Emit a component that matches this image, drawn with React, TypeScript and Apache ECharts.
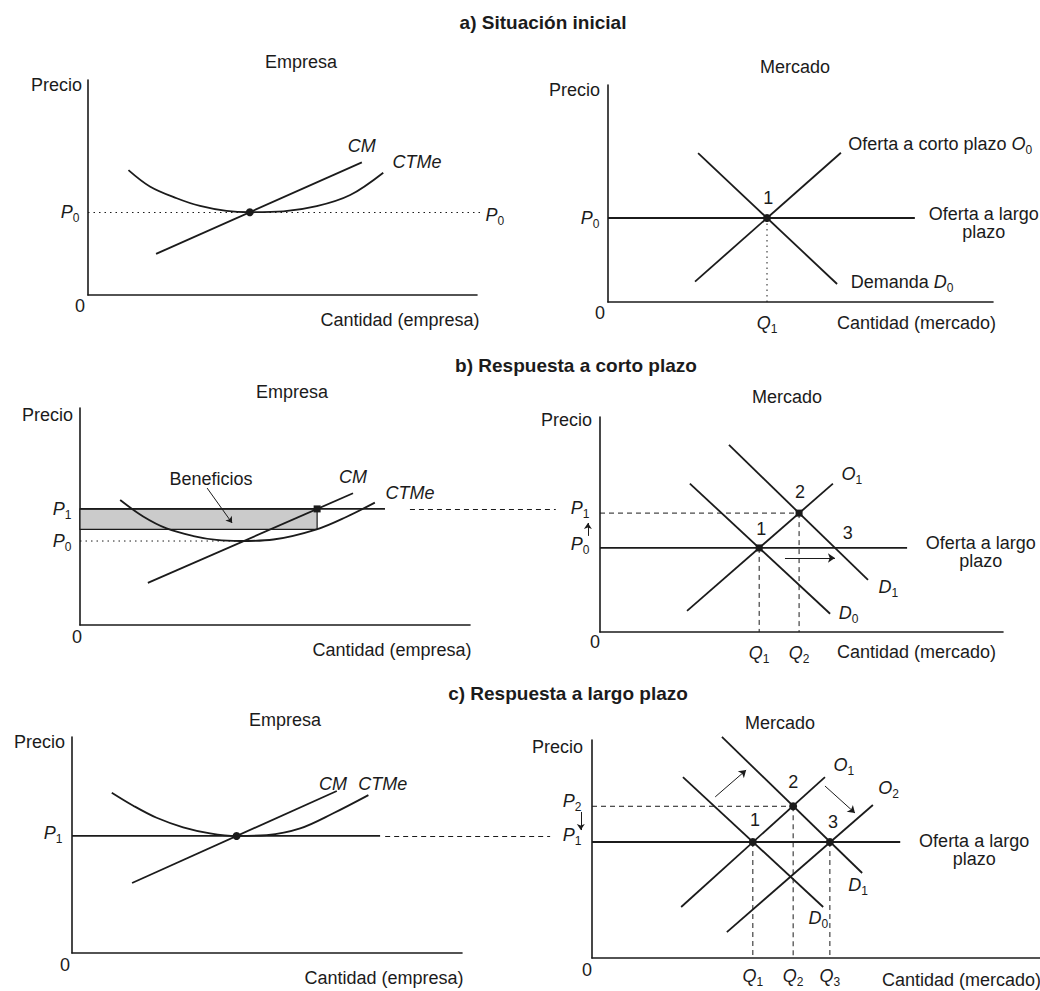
import React, { useEffect, useRef } from "react";
import * as echarts from "echarts";

const FONT = "'Liberation Sans', Arial, Helvetica, sans-serif";
const INK = "#1b1b1b";

// ---------------- a) Situación inicial ----------------
// Empresa (firm): quantity 0..100, price 0..100
const aEmpCTMe = [[10.4, 58.1], [15.9, 50.5], [22.8, 45], [28.8, 41.4], [35.6, 39.1], [41.6, 38.5], [50.2, 38.9], [58.8, 41.3], [67.4, 46.5], [75.9, 56.9]];
const aEmpCM = [[17.5, 19.1], [70.4, 61.7]];
const aEmpP0 = 38.5;
const aEmpQ = 41.6;
const aEmpP0End = 101;
// Mercado (market)
const aMktO0 = [[22.6, 9.4], [60.5, 68.8]];
const aMktD0 = [[23.4, 68.6], [59.5, 8.3]];
const aMktP0 = 38.7;
const aMktQ1 = 41.3;
const aMktLREnd = 79.7;

// ---------------- b) Respuesta a corto plazo ----------------
const bEmpCTMe = [[10.3, 57.6], [16.2, 50], [22.2, 44.5], [29.1, 41], [35, 39.2], [41, 38.7], [49.6, 39.4], [60.7, 44.1], [68.4, 49.9], [75.6, 56.4]];
const bEmpCM = [[17.4, 19.4], [70, 60.7]];
const bEmpP1 = 53.5;
const bEmpP0 = 38.7;
const bEmpQ = 60.8;
const bEmpACatQ = 44.1;
const bEmpP0End = 41;
const bEmpP1End = 78.2;
const bEmpDash = [84.6, 122];
const bMktO1 = [[21.6, 9.8], [57.8, 69]];
const bMktD0 = [[22.3, 69], [57.1, 8.5]];
const bMktD1 = [[32, 87], [66.5, 24.2]];
const bMktP1 = 55.3;
const bMktP0 = 39.1;
const bMktQ1 = 39.5;
const bMktQ2 = 49.4;
const bMktQ3 = 58.3;
const bMktLREnd = 76.2;

// ---------------- c) Respuesta a largo plazo ----------------
const cEmpCTMe = [[10.2, 74.2], [15.7, 68.2], [21.7, 62.6], [28.5, 58.2], [35.4, 55.4], [42.2, 54.2], [49.9, 54.6], [58.5, 57.7], [67, 64.7], [76, 73.1]];
const cEmpCM = [[15.4, 32.4], [67.9, 75]];
const cEmpP1 = 54.2;
const cEmpQ = 42.2;
const cEmpP1End = 79;
const cEmpDash = [80.3, 122.6];
const cMktO1 = [[19.9, 23.4], [52, 83]];
const cMktO2 = [[30.1, 11.9], [62.7, 70.2]];
const cMktD0 = [[20.3, 83], [51.6, 23.4]];
const cMktD1 = [[29, 101.4], [60.3, 39]];
const cMktP2 = 69.6;
const cMktP1 = 53.2;
const cMktQ1 = 35.9;
const cMktQ2 = 44.9;
const cMktQ3 = 53.1;
const cMktLREnd = 68.8;

// ---------------- layout ----------------
const GRIDS = [
  { left: 88, top: 80, width: 389, height: 215 },
  { left: 608, top: 85, width: 385, height: 217 },
  { left: 80, top: 408, width: 390, height: 217 },
  { left: 600, top: 417, width: 403, height: 215 },
  { left: 72, top: 737, width: 390, height: 216 },
  { left: 592, top: 740, width: 448, height: 218 },
];

const DOTTED = [1.5, 4];
const DASHED = [5, 4];

const rich = {
  n: { fontSize: 18, fontFamily: FONT, color: INK, lineHeight: 24 },
  v: { fontSize: 18, fontFamily: FONT, fontStyle: "italic", color: INK, lineHeight: 24 },
  s: { fontSize: 12, fontFamily: FONT, color: INK, lineHeight: 12, verticalAlign: "bottom" },
};

function buildOption() {
  const series: any[] = [];

  const line = (g: number, data: number[][], opt: any = {}) => {
    series.push({
      type: "line",
      xAxisIndex: g,
      yAxisIndex: g,
      data,
      symbol: "none",
      smooth: opt.smooth || false,
      clip: false,
      silent: true,
      lineStyle: { color: INK, width: opt.w ?? 1.8, type: opt.dash ?? "solid" },
      z: opt.z ?? 3,
      ...(opt.extra || {}),
    });
  };

  // free segment (not clipped by the grid), optional arrow head
  const seg = (g: number, a: number[], b: number[], opt: any = {}) => {
    series.push({
      type: "lines",
      coordinateSystem: "cartesian2d",
      xAxisIndex: g,
      yAxisIndex: g,
      clip: false,
      silent: true,
      symbol: opt.arrow ? ["none", "arrow"] : ["none", "none"],
      symbolSize: opt.size ?? 7,
      lineStyle: { color: INK, width: opt.w ?? 1, opacity: 1, type: opt.dash ?? "solid" },
      data: [{ coords: [a, b] }],
      z: opt.z ?? 5,
    });
  };

  const dot = (g: number, pt: number[], shape = "circle") => {
    series.push({
      type: "scatter",
      xAxisIndex: g,
      yAxisIndex: g,
      data: [pt],
      symbol: shape,
      symbolSize: shape === "rect" ? 7 : 8,
      clip: false,
      silent: true,
      itemStyle: { color: INK, opacity: 1 },
      z: 6,
    });
  };

  const labels = (g: number, items: any[]) => {
    series.push({
      type: "scatter",
      xAxisIndex: g,
      yAxisIndex: g,
      symbolSize: 1,
      clip: false,
      silent: true,
      itemStyle: { color: "rgba(0,0,0,0)", opacity: 1 },
      label: { show: true, rich, color: INK, fontFamily: FONT, fontSize: 18, lineHeight: 18, opacity: 1 },
      data: items.map((it) => {
        const lab: any = { formatter: it.t, position: it.p || "inside", distance: it.d ?? 0 };
        if (it.o) lab.offset = it.o;
        if (it.al) lab.align = it.al;
        return { value: [it.x, it.y], label: lab };
      }),
      z: 7,
    });
  };

  const P = (s: string) => `{v|P}{s|${s}}`;
  const Q = (s: string) => `{v|Q}{s|${s}}`;

  // ---- Panel 0: a) Empresa
  seg(0, [0, aEmpP0], [aEmpP0End, aEmpP0], { dash: DOTTED, z: 2 });
  line(0, aEmpCTMe, { smooth: 0.35 });
  line(0, aEmpCM);
  dot(0, [aEmpQ, aEmpP0]);
  labels(0, [
    { t: P("0"), x: 0, y: aEmpP0, p: "left", d: 8 },
    { t: P("0"), x: aEmpP0End, y: aEmpP0, p: "right", d: 4, o: [0, 3] },
    { t: "{v|CM}", x: 70.4, y: 69.3 },
    { t: "{v|CTMe}", x: 84.6, y: 61.9 },
  ]);

  // ---- Panel 1: a) Mercado
  line(1, [[0, aMktP0], [aMktLREnd, aMktP0]]);
  line(1, [[aMktQ1, aMktP0], [aMktQ1, 0]], { w: 1, dash: DOTTED, z: 2 });
  line(1, aMktO0);
  line(1, aMktD0);
  dot(1, [aMktQ1, aMktP0]);
  labels(1, [
    { t: P("0"), x: 0, y: aMktP0, p: "left", d: 8 },
    { t: Q("1"), x: aMktQ1, y: 0, p: "bottom", d: 8 },
    { t: "{n|1}", x: 41.6, y: 47.9 },
    { t: "{n|Oferta a corto plazo }{v|O}{s|0}", x: 62.3, y: 72.8, p: "right" },
    { t: "Oferta a largo\nplazo", x: 97.6, y: 36.6, al: "center" },
    { t: "{n|Demanda }{v|D}{s|0}", x: 62.9, y: 9.2, p: "right" },
  ]);

  // ---- Panel 2: b) Empresa
  line(2, [[0, bEmpP1], [bEmpP1End, bEmpP1]], {
    z: 3,
    extra: {
      markArea: {
        silent: true,
        itemStyle: { color: "#cbcbcb", borderColor: INK, borderWidth: 1.2 },
        data: [[{ coord: [0, bEmpP1] }, { coord: [bEmpQ, bEmpACatQ] }]],
      },
    },
  });
  seg(2, [bEmpDash[0], bEmpP1], [bEmpDash[1], bEmpP1], { dash: DASHED, z: 2 });
  line(2, [[0, bEmpP0], [bEmpP0End, bEmpP0]], { w: 1, dash: DOTTED, z: 2 });
  line(2, bEmpCTMe, { smooth: 0.35 });
  line(2, bEmpCM);
  dot(2, [bEmpQ, bEmpP1], "rect");
  seg(2, [32.6, 63.1], [39, 47], { arrow: true, size: 6 });
  labels(2, [
    { t: P("1"), x: 0, y: bEmpP1, p: "left", d: 8 },
    { t: P("0"), x: 0, y: bEmpP0, p: "left", d: 8 },
    { t: "Beneficios", x: 33.6, y: 67.3 },
    { t: "{v|CM}", x: 70, y: 68.2 },
    { t: "{v|CTMe}", x: 84.6, y: 60.8 },
  ]);

  // ---- Panel 3: b) Mercado
  line(3, [[0, bMktP0], [bMktLREnd, bMktP0]]);
  line(3, [[0, bMktP1], [bMktQ2, bMktP1]], { w: 1, dash: DASHED, z: 2 });
  line(3, [[bMktQ1, bMktP0], [bMktQ1, 0]], { w: 1, dash: DASHED, z: 2 });
  line(3, [[bMktQ2, bMktP1], [bMktQ2, 0]], { w: 1, dash: DASHED, z: 2 });
  line(3, bMktO1);
  line(3, bMktD0);
  line(3, bMktD1);
  dot(3, [bMktQ1, bMktP0], "rect");
  dot(3, [bMktQ2, bMktP1], "rect");
  seg(3, [45.9, 34.4], [bMktQ3, 34.4], { arrow: true, size: 7 });
  seg(3, [-3, 44.7], [-3, 50.7], { arrow: true, size: 6 });
  labels(3, [
    { t: P("1"), x: 0, y: bMktP1, p: "left", d: 10, o: [0, -5] },
    { t: P("0"), x: 0, y: bMktP0, p: "left", d: 10, o: [0, -4] },
    { t: Q("1"), x: bMktQ1, y: 0, p: "bottom", d: 8 },
    { t: Q("2"), x: bMktQ2, y: 0, p: "bottom", d: 8 },
    { t: "{n|2}", x: 49.6, y: 65.1 },
    { t: "{n|1}", x: 40, y: 47.9 },
    { t: "{n|3}", x: 61.5, y: 46 },
    { t: "{v|O}{s|1}", x: 59.8, y: 73.5, p: "right" },
    { t: "{v|D}{s|1}", x: 69, y: 20.9, p: "right" },
    { t: "{v|D}{s|0}", x: 59.1, y: 8.8, p: "right" },
    { t: "Oferta a largo\nplazo", x: 94.5, y: 37, al: "center" },
  ]);

  // ---- Panel 4: c) Empresa
  line(4, [[0, cEmpP1], [cEmpP1End, cEmpP1]]);
  seg(4, [cEmpDash[0], cEmpP1], [cEmpDash[1], cEmpP1], { dash: DASHED, z: 2 });
  line(4, cEmpCTMe, { smooth: 0.35 });
  line(4, cEmpCM);
  dot(4, [cEmpQ, cEmpP1]);
  labels(4, [
    { t: P("1"), x: 0, y: cEmpP1, p: "left", d: 9, o: [0, -3] },
    { t: "{v|CM}", x: 66.9, y: 78.2 },
    { t: "{v|CTMe}", x: 79.7, y: 78.2 },
  ]);

  // ---- Panel 5: c) Mercado
  line(5, [[0, cMktP1], [cMktLREnd, cMktP1]]);
  line(5, [[0, cMktP2], [cMktQ2, cMktP2]], { w: 1, dash: DASHED, z: 2 });
  line(5, [[cMktQ1, cMktP1], [cMktQ1, 0]], { w: 1, dash: DASHED, z: 2 });
  line(5, [[cMktQ2, cMktP2], [cMktQ2, 0]], { w: 1, dash: DASHED, z: 2 });
  line(5, [[cMktQ3, cMktP1], [cMktQ3, 0]], { w: 1, dash: DASHED, z: 2 });
  line(5, cMktO1);
  line(5, cMktO2);
  line(5, cMktD0);
  line(5, cMktD1);
  dot(5, [cMktQ1, cMktP1]);
  dot(5, [cMktQ2, cMktP2]);
  dot(5, [cMktQ3, cMktP1]);
  seg(5, [27.5, 73.9], [34.4, 86.2], { arrow: true, size: 7 });
  seg(5, [52, 78.9], [58.7, 66.5], { arrow: true, size: 7 });
  seg(5, [-2.5, 67], [-2.5, 58.7], { arrow: true, size: 6 });
  labels(5, [
    { t: P("2"), x: 0, y: cMktP2, p: "left", d: 10, o: [0, -5] },
    { t: P("1"), x: 0, y: cMktP1, p: "left", d: 10, o: [0, -7] },
    { t: Q("1"), x: cMktQ1, y: 0, p: "bottom", d: 5 },
    { t: Q("2"), x: cMktQ2, y: 0, p: "bottom", d: 5 },
    { t: Q("3"), x: cMktQ3, y: 0, p: "bottom", d: 5 },
    { t: "{n|1}", x: 36.4, y: 63.3 },
    { t: "{n|2}", x: 44.9, y: 80.7 },
    { t: "{n|3}", x: 53.8, y: 62.4 },
    { t: "{v|O}{s|1}", x: 53.8, y: 88.5, p: "right" },
    { t: "{v|O}{s|2}", x: 63.8, y: 78, p: "right" },
    { t: "{v|D}{s|1}", x: 57.1, y: 33.5, p: "right" },
    { t: "{v|D}{s|0}", x: 48.2, y: 18.3, p: "right" },
    { t: "Oferta a largo\nplazo", x: 85.3, y: 49.5, al: "center" },
  ]);

  const axisCommon = {
    type: "value",
    min: 0,
    max: 100,
    axisLine: { show: true, onZero: false, lineStyle: { color: INK, width: 1.6 } },
    axisTick: { show: false },
    axisLabel: { show: false },
    splitLine: { show: false },
  };

  const txt = (t: string, x: number, y: number, align = "center", size = 18, weight = "normal") => ({
    type: "text",
    x,
    y,
    silent: true,
    style: {
      text: t,
      fill: INK,
      font: `${weight} ${size}px ${FONT}`,
      textAlign: align,
      textVerticalAlign: "middle",
      align,
      verticalAlign: "middle",
    },
  });

  const graphic = [
    txt("a) Situación inicial", 543, 22, "center", 19, "bold"),
    txt("b) Respuesta a corto plazo", 576, 365, "center", 19, "bold"),
    txt("c) Respuesta a largo plazo", 568, 693, "center", 19, "bold"),
    txt("Empresa", 301, 62),
    txt("Mercado", 795, 67),
    txt("Empresa", 292, 392),
    txt("Mercado", 787, 397),
    txt("Empresa", 285, 720),
    txt("Mercado", 780, 723),
    txt("Precio", 82, 85, "right"),
    txt("Precio", 600, 90, "right"),
    txt("Precio", 73, 415, "right"),
    txt("Precio", 592, 420, "right"),
    txt("Precio", 65, 742, "right"),
    txt("Precio", 583, 747, "right"),
    txt("0", 80, 306),
    txt("0", 600, 313),
    txt("0", 77, 637),
    txt("0", 595, 642),
    txt("0", 65, 965),
    txt("0", 587, 970),
    txt("Cantidad (empresa)", 400, 320),
    txt("Cantidad (empresa)", 392, 650),
    txt("Cantidad (empresa)", 384, 978),
    txt("Cantidad (mercado)", 837, 323, "left"),
    txt("Cantidad (mercado)", 837, 652, "left"),
    txt("Cantidad (mercado)", 882, 980, "left"),
  ];

  return {
    animation: false,
    backgroundColor: "#ffffff",
    grid: GRIDS.map((g) => ({ ...g, containLabel: false })),
    xAxis: GRIDS.map((_, i) => ({ ...axisCommon, gridIndex: i })),
    yAxis: GRIDS.map((_, i) => ({ ...axisCommon, gridIndex: i })),
    graphic,
    series,
  };
}

export default function App() {
  const ref = useRef<HTMLDivElement>(null);
  useEffect(() => {
    if (!ref.current) return;
    const chart = echarts.init(ref.current, null, { renderer: "svg" });
    chart.setOption(buildOption() as any);
    return () => chart.dispose();
  }, []);
  return (
    <div
      ref={ref}
      style={{ position: "fixed", left: 0, top: 0, width: 1040, height: 991, background: "#fff" }}
    />
  );
}
